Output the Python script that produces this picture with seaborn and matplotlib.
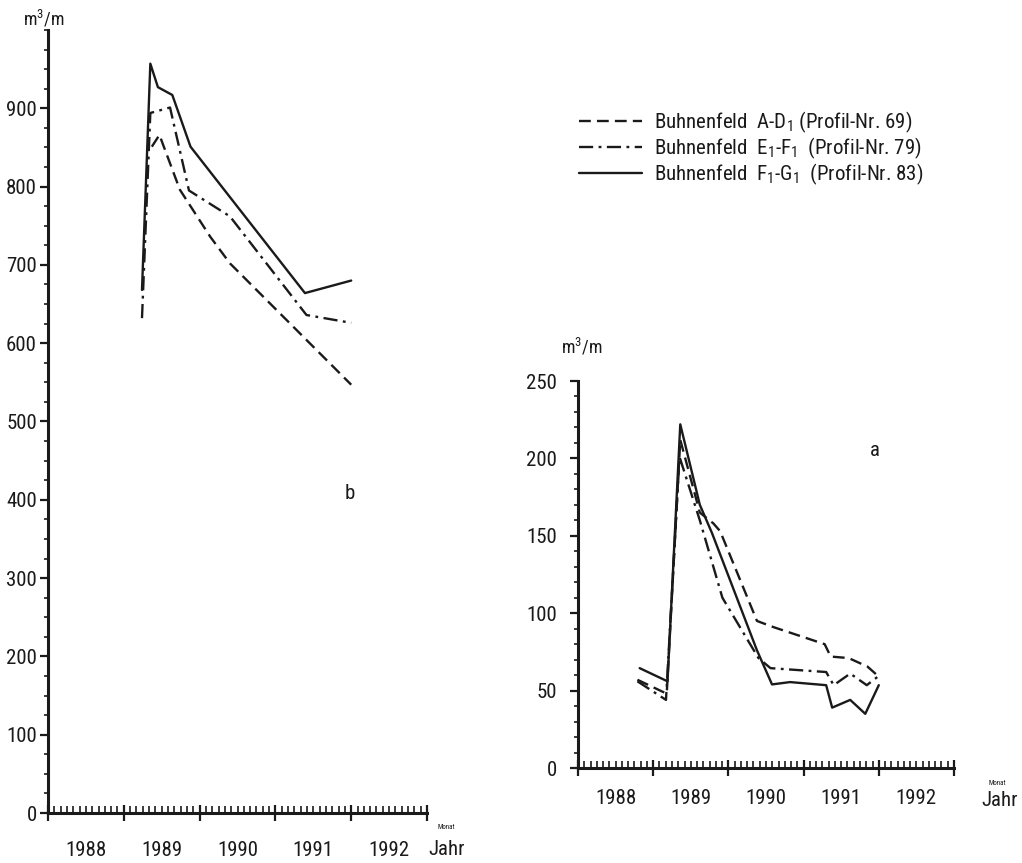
import matplotlib
matplotlib.use("Agg")
import matplotlib.pyplot as plt
from matplotlib import font_manager as fm
import seaborn as sns
import numpy as np
import pandas as pd
from matplotlib.ticker import MultipleLocator, FixedLocator, NullFormatter

# ---------------- data ----------------
years = [1988, 1989, 1990, 1991, 1992]

# chart b (left)
b_ad_x = [1989.37, 1989.47, 1989.74, 1990.14, 1990.40, 1992.00]
b_ad_y = [851, 866, 796, 736, 702, 547]
b_ef_x = [1989.24, 1989.35, 1989.61, 1989.86, 1990.40, 1991.41, 1992.00]
b_ef_y = [632, 894, 901, 795, 762, 636, 626]
b_fg_x = [1989.24, 1989.35, 1989.45, 1989.64, 1989.88, 1991.39, 1992.00]
b_fg_y = [668, 957, 927, 917, 851, 664, 680]

# chart a (right)
a_ad_x = [1988.79, 1989.18, 1989.36, 1989.62, 1989.80, 1989.89, 1990.38, 1990.60,
          1991.28, 1991.36, 1991.60, 1991.85, 1992.00]
a_ad_y = [57, 48, 212, 165, 158, 153, 95, 91, 80, 72, 71, 65.5, 59]
a_ef_x = [1988.79, 1989.17, 1989.35, 1989.62, 1989.92, 1990.40, 1990.56, 1991.30,
          1991.40, 1991.62, 1991.84, 1992.00]
a_ef_y = [56, 44, 201, 160, 110, 71, 64.5, 62, 53.5, 61, 53.5, 59.5]
a_fg_x = [1988.82, 1989.19, 1989.36, 1989.62, 1989.78, 1990.38, 1990.58, 1990.82,
          1991.30, 1991.38, 1991.62, 1991.82, 1992.00]
a_fg_y = [64.5, 56, 222, 170, 152, 76, 54, 55.5, 53.5, 39, 44, 35, 53.5]

legend_labels = [
    "Buhnenfeld  A-D$_1$ (Profil-Nr. 69)",
    "Buhnenfeld  E$_1$-F$_1$  (Profil-Nr. 79)",
    "Buhnenfeld  F$_1$-G$_1$  (Profil-Nr. 83)",
]

# ---------------- style ----------------
sns.set_theme(style="white")

ttf = fm.fontManager.ttflist
names = {f.name for f in ttf}
FONT, STRETCH, SCALE = "DejaVu Sans", "normal", 0.82
for cand in ["Liberation Sans Narrow", "Roboto Condensed", "Open Sans Condensed"]:
    if cand in names:
        FONT, STRETCH, SCALE = cand, "normal", 1.0
        break
else:
    if any(f.name == "DejaVu Sans" and f.stretch == "condensed" for f in ttf):
        FONT, STRETCH, SCALE = "DejaVu Sans", "condensed", 0.93

plt.rcParams["font.family"] = [FONT, "DejaVu Sans"]
plt.rcParams["font.stretch"] = STRETCH
plt.rcParams["mathtext.fontset"] = "custom"
mpat = FONT if STRETCH == "normal" else FONT + ":stretch=condensed"
plt.rcParams["mathtext.rm"] = mpat
plt.rcParams["mathtext.it"] = mpat
plt.rcParams["mathtext.default"] = "regular"

INK = "#1a1a1a"
LW = 1.7
styles = [(0, (5, 2.6)), (0, (6, 2.3, 1.2, 2.3)), "-"]

W, H = 1022, 863
fig = plt.figure(figsize=(W / 100, H / 100), dpi=100)
fig.patch.set_facecolor("white")


def add_ax(x0, x1, y0, y1):
    return fig.add_axes([x0 / W, 1 - y1 / H, (x1 - x0) / W, (y1 - y0) / H])


axb = add_ax(48, 427, 30, 813)
axa = add_ax(578, 954, 381, 768)


def draw(ax, series):
    handles = []
    for (xs, ys), ls in zip(series, styles):
        df = pd.DataFrame({"Jahr": xs, "v": ys})
        sns.lineplot(data=df, x="Jahr", y="v", ax=ax, color=INK, lw=LW,
                     linestyle=ls, estimator=None, sort=False, legend=False)
        handles.append(ax.lines[-1])
    return handles


draw(axb, [(b_ad_x, b_ad_y), (b_ef_x, b_ef_y), (b_fg_x, b_fg_y)])
handles = draw(axa, [(a_ad_x, a_ad_y), (a_ef_x, a_ef_y), (a_fg_x, a_fg_y)])

FS = 15 * SCALE


def style_ax(ax, ymax, ymajor, yminor, ylabels_max, pad_y, label_off):
    ax.set_xlim(1988, 1993)
    ax.set_ylim(0, ymax)
    ax.set_xlabel("")
    ax.set_ylabel("")
    for s in ["top", "right"]:
        ax.spines[s].set_visible(False)
    for s in ["left", "bottom"]:
        ax.spines[s].set_linewidth(2.2)
        ax.spines[s].set_color(INK)
    ax.set_facecolor("none")
    ax.xaxis.set_major_locator(FixedLocator(np.arange(1988, 1994)))
    ax.xaxis.set_minor_locator(MultipleLocator(1 / 12))
    ax.xaxis.set_major_formatter(NullFormatter())
    ax.yaxis.set_major_locator(FixedLocator(np.arange(0, ylabels_max + 1, ymajor)))
    ax.yaxis.set_minor_locator(MultipleLocator(yminor))
    ax.tick_params(axis="x", which="major", direction="inout", length=11,
                   width=1.6, color=INK, bottom=True)
    ax.tick_params(axis="x", which="minor", direction="in", length=5,
                   width=1.2, color=INK, bottom=True)
    ax.tick_params(axis="y", which="major", direction="out", length=6,
                   width=1.6, color=INK, labelsize=FS, pad=pad_y, left=True,
                   labelcolor=INK)
    ax.tick_params(axis="y", which="minor", direction="out", length=3,
                   width=1.2, color=INK, left=True)
    for yr in years:
        ax.annotate(str(yr), xy=(yr + 0.5, 0), xycoords=("data", "axes fraction"),
                    xytext=(0, -label_off * 0.72), textcoords="offset points",
                    ha="center", va="center", fontsize=FS, color=INK)


style_ax(axb, 1000, 100, 25, 900, 2, 37)
style_ax(axa, 250, 50, 10, 250, 9, 30)


def ftext(x, y, s, size, **kw):
    fig.text(x / W, 1 - y / H, s, fontsize=size, color=INK, ha="center",
             va="center", **kw)


ftext(44, 19, "m$^3$/m", 13 * SCALE)
ftext(582, 347, "m$^3$/m", 13 * SCALE)
ftext(447, 849, "Jahr", FS)
ftext(446, 827, "Monat", 5)
ftext(1000, 800, "Jahr", FS)
ftext(997, 783, "Monat", 5)
ftext(350, 493, "b", FS)
ftext(875, 450, "a", FS)

fig.legend(handles, legend_labels, loc="upper left",
           bbox_to_anchor=(579 / W, 1 - 110 / H), frameon=False,
           fontsize=15 * SCALE, handlelength=3.0, handletextpad=0.6,
           labelspacing=0.02, borderaxespad=0, borderpad=0,
           labelcolor=INK)

fig.savefig("out.png", dpi=100, facecolor="white")
